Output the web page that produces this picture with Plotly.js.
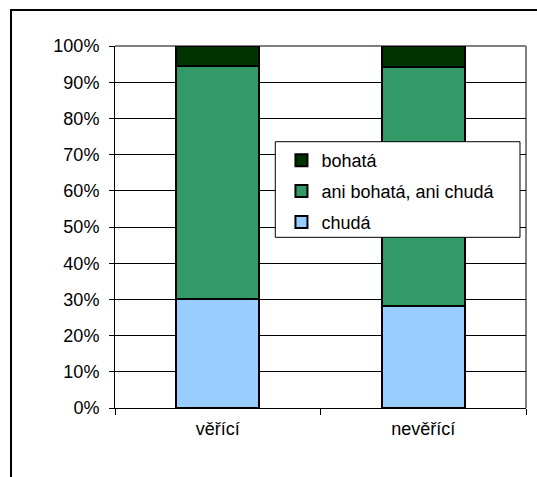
<!DOCTYPE html>
<html>
<head>
<meta charset="utf-8">
<script src="https://cdn.plot.ly/plotly-3.0.1.min.js"></script>
<style>html,body{margin:0;padding:0;background:#fff;}#chart{width:537px;height:477px;}</style>
</head>
<body>
<div id="chart"></div>
<script>
const categories = ["věřící", "nevěřící"];
const seriesNames = ["chudá", "ani bohatá, ani chudá", "bohatá"];
const chuda = [30.0, 28.3];
const ani = [64.4, 65.8];
const bohata = [5.6, 5.9];
const yTickVals = [0, 10, 20, 30, 40, 50, 60, 70, 80, 90, 100];
const yTickText = ["0%", "10%", "20%", "30%", "40%", "50%", "60%", "70%", "80%", "90%", "100%"];

const colors = ["#99CCFF", "#339966", "#003300"];
const values = [chuda, ani, bohata];

const traces = values.map((v, i) => ({
  type: "bar",
  x: categories,
  y: v,
  name: seriesNames[i],
  legendgroup: "g" + i,
  legendrank: 3 - i,
  marker: {color: colors[i], line: {color: "#000", width: 2}},
  hoverinfo: "skip"
}));

const font = {family: "Liberation Sans, Arial, sans-serif", size: 18, color: "#000"};

const layout = {
  width: 537,
  height: 477,
  margin: {l: 115, r: 11, t: 46, b: 69},
  paper_bgcolor: "#fff",
  plot_bgcolor: "#fff",
  font: font,
  barmode: "stack",
  bargap: 0.596,
  showlegend: true,
  legend: {
    x: 0.405, y: 0.735, xanchor: "left", yanchor: "top",
    bgcolor: "rgba(0,0,0,0)", borderwidth: 0,
    traceorder: "grouped",
    tracegroupgap: 4.5,
    font: font
  },
  xaxis: {
    type: "category",
    range: [-0.5, 1.5],
    showline: true, linecolor: "#000", linewidth: 1,
    ticks: "outside", ticklen: 6, tickcolor: "#000", tickwidth: 1,
    tickson: "boundaries",
    showgrid: false, zeroline: false,
    tickfont: font,
    ticklabelstandoff: 4
  },
  yaxis: {
    range: [0, 100],
    tickmode: "array",
    tickvals: yTickVals,
    ticktext: yTickText,
    showline: true, linecolor: "#000", linewidth: 1,
    ticks: "outside", ticklen: 5, tickcolor: "#000", tickwidth: 1,
    showgrid: true, gridcolor: "#000", gridwidth: 1,
    zeroline: false,
    tickfont: font,
    ticklabelstandoff: 6
  },
  shapes: [
    {type: "rect", xref: "paper", yref: "paper", x0: -0.253, x1: 1.05, y0: -0.23, y1: 1.0994,
     line: {color: "#000", width: 2}, fillcolor: "rgba(0,0,0,0)", layer: "below"},
    {type: "line", xref: "paper", yref: "paper", x0: 0, x1: 1, y0: 1, y1: 1,
     line: {color: "#808080", width: 2}, layer: "between"},
    {type: "line", xref: "paper", yref: "paper", x0: 1, x1: 1, y0: 0, y1: 1,
     line: {color: "#808080", width: 2}, layer: "between"},
    {type: "rect", xref: "paper", yref: "paper", x0: 0.390, x1: 0.9854, y0: 0.4715, y1: 0.7356,
     line: {color: "#000", width: 1}, fillcolor: "#fff", layer: "above"}
  ]
};

Plotly.newPlot("chart", traces, layout, {displayModeBar: false, staticPlot: true});
</script>
</body>
</html>
